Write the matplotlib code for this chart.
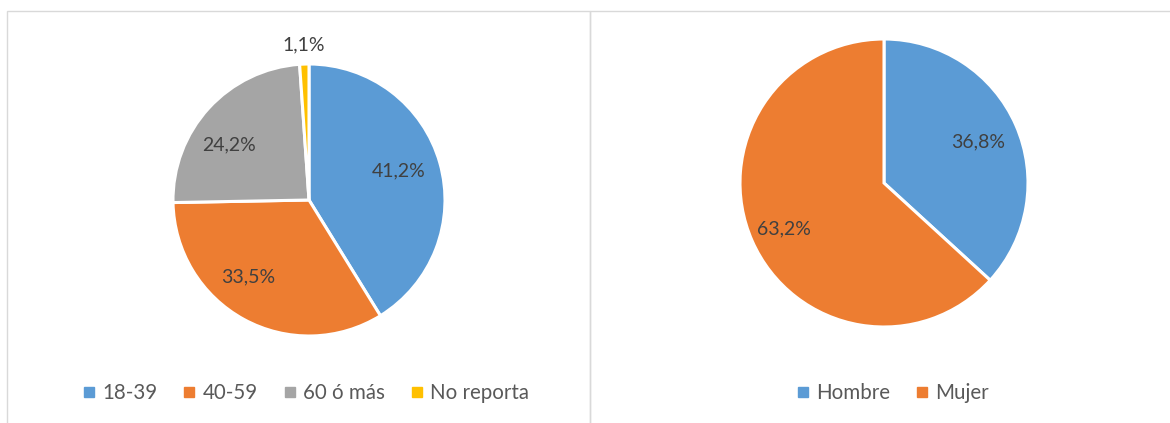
import numpy as np
import matplotlib
matplotlib.use("Agg")
import matplotlib.pyplot as plt
from matplotlib.lines import Line2D
from matplotlib.patches import Rectangle

# ---- data ----
age_labels = ["18-39", "40-59", "60 ó más", "No reporta"]
age_values = [41.2, 33.5, 24.2, 1.1]
sex_labels = ["Hombre", "Mujer"]
sex_values = [36.8, 63.2]

colors_age = ["#5B9BD5", "#ED7D31", "#A5A5A5", "#FFC000"]
colors_sex = ["#5B9BD5", "#ED7D31"]

plt.rcParams['font.family'] = ['Lato', 'DejaVu Sans']

W, H = 1170, 423
fig = plt.figure(figsize=(W / 100, H / 100), dpi=100)
fig.patch.set_facecolor("white")


def px_rect(x0, y0, x1, y1):
    return Rectangle((x0 / W, 1 - y1 / H), (x1 - x0) / W, (y1 - y0) / H,
                     transform=fig.transFigure, fill=False,
                     edgecolor="#D9D9D9", linewidth=1.0)


fig.patches.append(px_rect(7, 11, 590, 440))
fig.patches.append(px_rect(590, 11, 1190, 440))


def pie_axes(cx, cy, r):
    return fig.add_axes([(cx - r) / W, (H - cy - r) / H, 2 * r / W, 2 * r / H])


def fmt(v):
    return f"{v:.1f}".replace(".", ",") + "%"


def draw_pie(ax, values, colors, label_dist, angle_shift):
    ax.pie(values, colors=colors, startangle=90, counterclock=False,
           wedgeprops=dict(edgecolor="white", linewidth=2.2))
    ax.set_xlim(-1, 1)
    ax.set_ylim(-1, 1)
    ax.axis("off")
    total = sum(values)
    start = 90.0
    for v, d, s in zip(values, label_dist, angle_shift):
        sweep = v / total * 360.0
        mid = np.deg2rad(start - sweep / 2 + s)
        ax.text(d * np.cos(mid), d * np.sin(mid), fmt(v), ha="center", va="center",
                fontsize=14, color="#404040")
        start -= sweep


ax1 = pie_axes(309, 200, 136)
draw_pie(ax1, age_values, colors_age, [0.695, 0.72, 0.71, 1.14], [2, -10, 8, 0])

ax2 = pie_axes(884, 183, 144)
draw_pie(ax2, sex_values, colors_sex, [0.715, 0.765], [0, 1])


def legend(labels, colors, cx, cy):
    handles = [Line2D([], [], linestyle="none", marker="s", markersize=7,
                      markerfacecolor=c, markeredgecolor=c) for c in colors]
    fig.legend(handles, labels, loc="center", bbox_to_anchor=(cx / W, 1 - cy / H),
               ncol=len(labels), frameon=False, fontsize=14.8, labelcolor="#595959",
               handlelength=0.6, handletextpad=0.35, columnspacing=1.25,
               borderpad=0, borderaxespad=0)


legend(age_labels, colors_age, 306, 393)
legend(sex_labels, colors_sex, 893, 393)

fig.savefig("out.png", dpi=100, facecolor="white")
